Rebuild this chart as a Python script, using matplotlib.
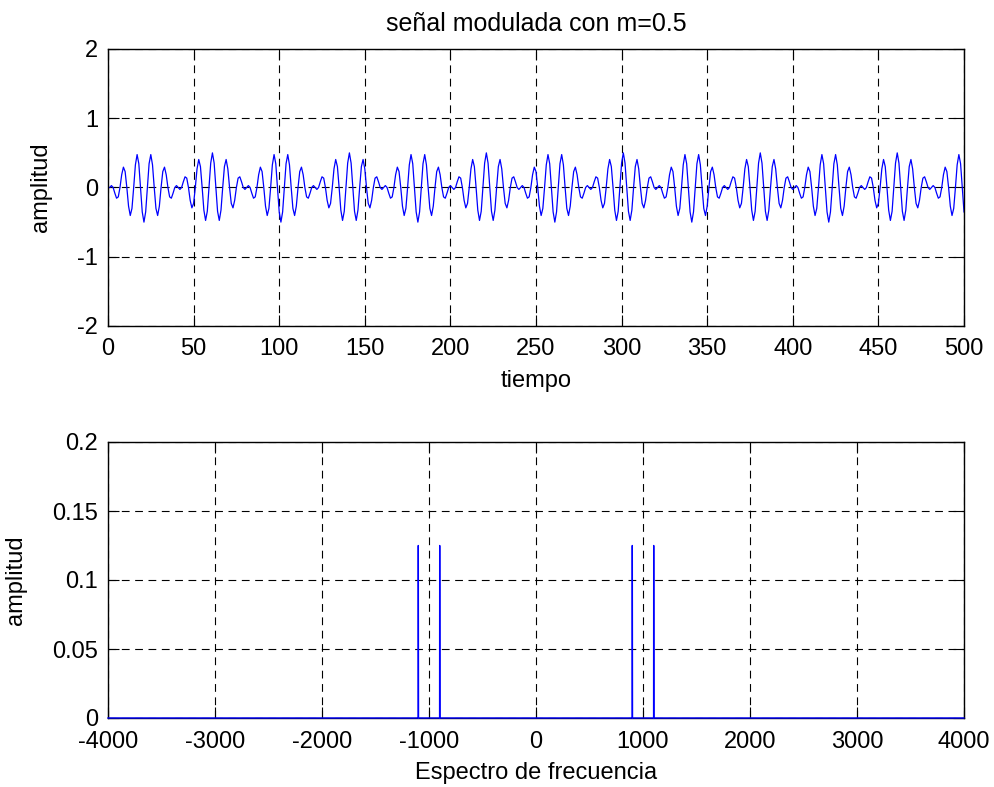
import numpy as np
import matplotlib
matplotlib.use('Agg')
import matplotlib.pyplot as plt

#------------------------------------------------------------------------------------
# spectral lines of the DSB signal (carrier 1000 Hz, tone 100 Hz, m=0.5)
fs = 8000
line_freqs = [-1100, -900, 900, 1100]
line_amps = [0.125, 0.125, 0.125, 0.125]
line_phases = [np.pi/2, -np.pi/2, np.pi/2, -np.pi/2]
n_samples = 500
n_fft = 8000

x_ticks_t = [0, 50, 100, 150, 200, 250, 300, 350, 400, 450, 500]
y_ticks_t = [-2, -1, 0, 1, 2]
x_ticks_f = [-4000, -3000, -2000, -1000, 0, 1000, 2000, 3000, 4000]
y_ticks_f = [0, 0.05, 0.1, 0.15, 0.2]
y_labels_f = ['0', '0.05', '0.1', '0.15', '0.2']
#------------------------------------------------------------------------------------

# time signal rebuilt from the spectral lines
n = np.arange(n_samples)
sig = np.zeros(n_samples)
for f0, a, ph in zip(line_freqs, line_amps, line_phases):
  sig = sig + a*np.cos(2*np.pi*f0*n/fs + ph)

# two-sided amplitude spectrum
freq = (np.arange(n_fft) - n_fft//2)*fs/n_fft
spec = np.zeros(n_fft)
for f0, a in zip(line_freqs, line_amps):
  spec[freq == f0] = a

plt.rcParams['font.family'] = ['Liberation Sans', 'DejaVu Sans']
plt.rcParams['font.size'] = 17
plt.rcParams['axes.unicode_minus'] = False

fig = plt.figure(figsize=(9.94, 7.87), dpi=100)
ax1 = fig.add_axes([108/994, 1-326/787, 856/994, 277/787])
ax2 = fig.add_axes([108/994, 1-718/787, 856/994, 276/787])

def matlab_style(ax):
  ax.grid(True, color='k', linestyle=(0, (7, 5)), linewidth=0.8)
  ax.tick_params(direction='in', top=True, right=True, length=8, width=0.8)
  ax.tick_params(axis='x', pad=9)
  ax.tick_params(axis='y', pad=7)
  for s in ax.spines.values():
    s.set_linewidth(1.0)

ax1.plot(n + 1, sig, color='#0000ff', linewidth=0.9)
ax1.set_xlim(0, 500);  ax1.set_ylim(-2, 2)
ax1.set_xticks(x_ticks_t);  ax1.set_yticks(y_ticks_t)
ax1.set_xlabel('tiempo', labelpad=7);  ax1.set_ylabel('amplitud', labelpad=18)
ax1.set_title('señal modulada con m=0.5', fontsize=18, pad=13)
matlab_style(ax1)

ax2.plot(freq, spec, color='#0000ff', linewidth=1.0, zorder=3, clip_on=False)
ax2.set_xlim(-4000, 4000);  ax2.set_ylim(0, 0.2)
ax2.set_xticks(x_ticks_f);  ax2.set_yticks(y_ticks_f)
ax2.set_yticklabels(y_labels_f)
ax2.set_xlabel('Espectro de frecuencia', labelpad=7);  ax2.set_ylabel('amplitud', labelpad=18)
matlab_style(ax2)

fig.savefig('out.png', dpi=100)
